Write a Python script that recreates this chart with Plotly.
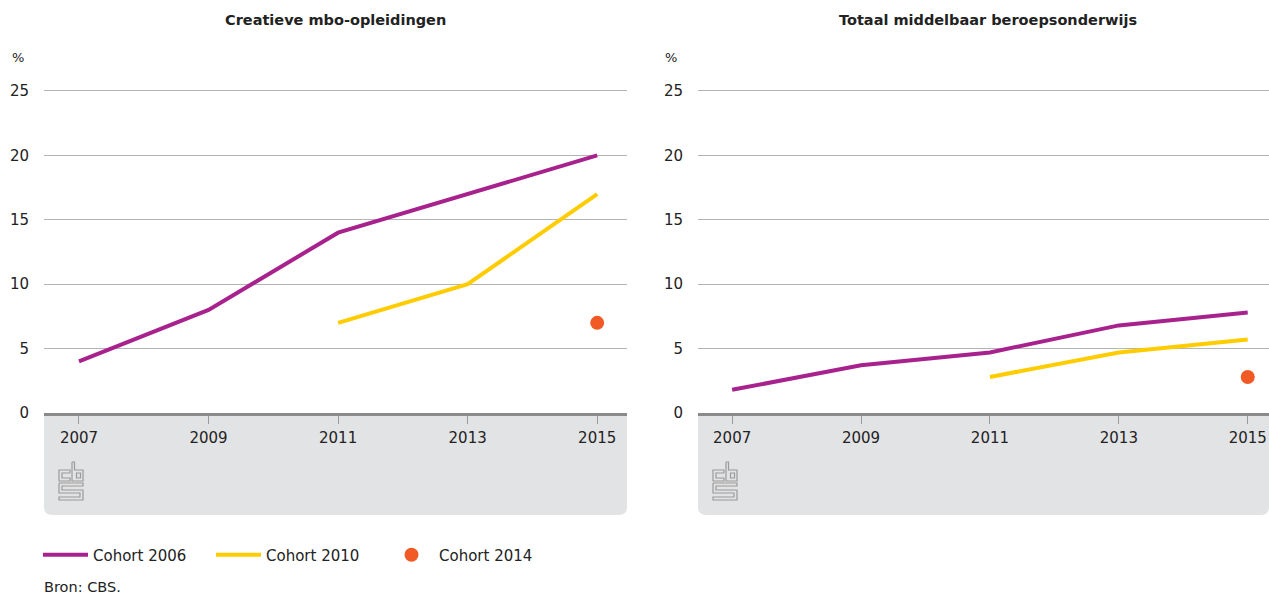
import plotly.graph_objects as go

# ---- data ----
years = [2007, 2009, 2011, 2013, 2015]
creatief_2006 = [4, 8, 14, 17, 20]
creatief_2010 = [None, None, 7, 10, 17]
creatief_2014 = [None, None, None, None, 7]
totaal_2006 = [1.8, 3.7, 4.7, 6.8, 7.8]
totaal_2010 = [None, None, 2.8, 4.7, 5.7]
totaal_2014 = [None, None, None, None, 2.8]
series_names = ["Cohort 2006", "Cohort 2010", "Cohort 2014"]
panel_titles = ["Creatieve mbo-opleidingen", "Totaal middelbaar beroepsonderwijs"]
y_ticks = [0, 5, 10, 15, 20, 25]

W, H = 1269, 596
PURPLE = "#a8228e"
YELLOW = "#ffcc00"
ORANGE = "#f15a24"
TEXT = "#222222"
FONT = "DejaVu Sans"

def px(x):
    return x / W

def py(y):
    return 1 - y / H

fig = go.Figure()

panels = [
    (creatief_2006, creatief_2010, creatief_2014, "x", "y", True),
    (totaal_2006, totaal_2010, totaal_2014, "x2", "y2", False),
]
for s06, s10, s14, xa, ya, show in panels:
    fig.add_trace(go.Scatter(x=years, y=s06, mode="lines", name=series_names[0],
                             line=dict(color=PURPLE, width=4), xaxis=xa, yaxis=ya,
                             showlegend=show, legendgroup="a"))
    fig.add_trace(go.Scatter(x=years, y=s10, mode="lines", name=series_names[1],
                             line=dict(color=YELLOW, width=4), xaxis=xa, yaxis=ya,
                             showlegend=show, legendgroup="b"))
    fig.add_trace(go.Scatter(x=years, y=s14, mode="markers", name=series_names[2],
                             marker=dict(color=ORANGE, size=14), xaxis=xa, yaxis=ya,
                             showlegend=show, legendgroup="c"))

xdomains = [(44, 627), (698, 1269)]
xranges = [[2006.46, 2015.46], [2006.47, 2015.33]]
# 25 sits at y=91, 0 at y=413 -> 12.88 px per unit; extend range a bit so top gridline is drawn
YMAX = 25.3
ydom = [py(413), py(413 - YMAX * (322 / 25))]

common_x = dict(tickvals=years, ticktext=[str(y) for y in years], showgrid=False,
                showline=True, linecolor="#8a8a8a", linewidth=3, ticks="outside",
                ticklen=8, tickcolor="#9a9a9a", tickwidth=1,
                tickfont=dict(family=FONT, size=15, color=TEXT), ticklabelstandoff=1,
                zeroline=False, fixedrange=True, automargin=False)
common_y = dict(range=[0, YMAX], tickvals=y_ticks, showgrid=True, gridcolor="#b4b4b4",
                gridwidth=1, zeroline=False, showline=False, ticks="",
                tickfont=dict(family=FONT, size=15, color=TEXT), ticklabelstandoff=14,
                fixedrange=True, automargin=False)

fig.update_layout(
    template="none",
    xaxis=dict(domain=[px(xdomains[0][0]), px(xdomains[0][1])], range=xranges[0], anchor="y", **common_x),
    yaxis=dict(domain=ydom, anchor="x", **common_y),
    xaxis2=dict(domain=[px(xdomains[1][0]), min(1.0, px(xdomains[1][1]))], range=xranges[1], anchor="y2", **common_x),
    yaxis2=dict(domain=ydom, anchor="x2", **common_y),
)

shapes = []
# grey panels with rounded bottom corners
r_x, r_y = 8 / W, 8 / H
for (x0p, x1p) in xdomains:
    x0, x1 = px(x0p), px(x1p)
    yt, yb = py(413), py(515)
    path = (f"M{x0},{yt} L{x1},{yt} L{x1},{yb + r_y} Q{x1},{yb} {x1 - r_x},{yb} "
            f"L{x0 + r_x},{yb} Q{x0},{yb} {x0},{yb + r_y} Z")
    shapes.append(dict(type="path", path=path, xref="paper", yref="paper",
                       fillcolor="#e2e3e5", line=dict(width=0), layer="below"))

# simplified CBS logo outlines
def logo(ox, oy):
    c = "#9a9a9a"
    out = []
    def rect(x0, y0, x1, y1):
        out.append(dict(type="rect", xref="paper", yref="paper",
                        x0=px(ox + x0), x1=px(ox + x1), y0=py(oy + y0), y1=py(oy + y1),
                        line=dict(color=c, width=1.2), fillcolor="rgba(0,0,0,0)"))
    def path(pts):
        d = "M" + " L".join(f"{px(ox + a)},{py(oy + b)}" for a, b in pts)
        out.append(dict(type="path", xref="paper", yref="paper", path=d,
                        line=dict(color=c, width=1.2)))
    # c
    path([(11, 11), (11, 8), (0, 8), (0, 19), (11, 19), (11, 16), (3, 16), (3, 11), (11, 11)])
    # b
    path([(13, 0), (15.5, 0), (15.5, 8), (24, 8), (24, 19), (13, 19), (13, 0)])
    rect(17.5, 11, 21.5, 16)
    # s
    path([(0, 21), (24, 21), (24, 24), (3, 24), (3, 28), (24, 28), (24, 38),
          (0, 38), (0, 35), (21, 35), (21, 31), (0, 31), (0, 21)])
    return out

shapes += logo(59, 462)
shapes += logo(713, 462)

annotations = [
    dict(text=f"<b>{panel_titles[0]}</b>", x=px(335.5), y=py(20), xref="paper", yref="paper",
         showarrow=False, font=dict(family=FONT, size=14.5, color=TEXT), xanchor="center", yanchor="middle"),
    dict(text=f"<b>{panel_titles[1]}</b>", x=px(988), y=py(20), xref="paper", yref="paper",
         showarrow=False, font=dict(family=FONT, size=14.5, color=TEXT), xanchor="center", yanchor="middle"),
    dict(text="%", x=px(10), y=py(57), xref="paper", yref="paper", showarrow=False,
         font=dict(family=FONT, size=13, color=TEXT), xanchor="left", yanchor="middle"),
    dict(text="%", x=px(663), y=py(57), xref="paper", yref="paper", showarrow=False,
         font=dict(family=FONT, size=13, color=TEXT), xanchor="left", yanchor="middle"),
    dict(text="Bron: CBS.", x=px(42), y=py(587), xref="paper", yref="paper", showarrow=False,
         font=dict(family=FONT, size=14.5, color=TEXT), xanchor="left", yanchor="middle"),
]

fig.update_layout(
    width=W, height=H, margin=dict(l=0, r=0, t=0, b=0, autoexpand=False),
    paper_bgcolor="white", plot_bgcolor="white",
    shapes=shapes, annotations=annotations,
    showlegend=True,
    legend=dict(orientation="h", x=px(38), y=py(555), xanchor="left", yanchor="middle",
                font=dict(family=FONT, size=15, color=TEXT), itemwidth=45,
                entrywidth=113, entrywidthmode="pixels", bgcolor="rgba(0,0,0,0)",
                borderwidth=0, tracegroupgap=0, traceorder="normal"),
)

fig.write_html("out.html", config={"displayModeBar": False},
               post_script="document.body.style.margin='0';")
